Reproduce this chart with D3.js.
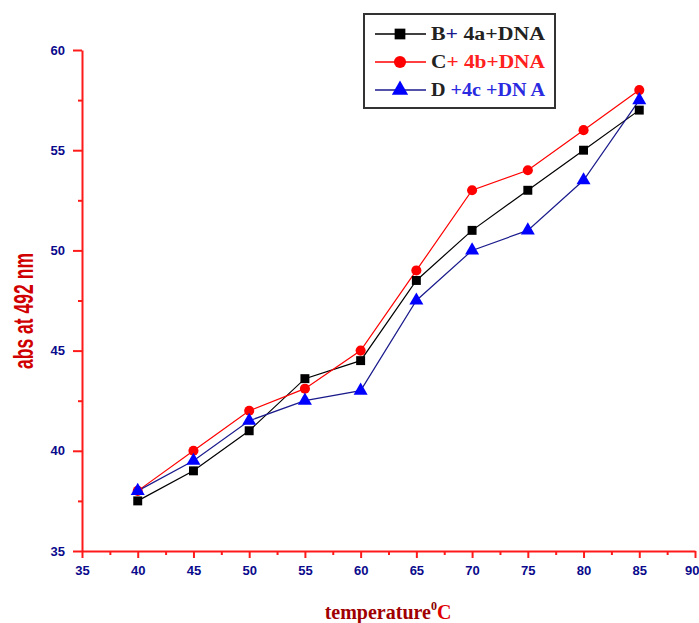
<!doctype html>
<head>
	<title>abs vs temperature</title>
	<script src="https://d3js.org/d3.v7.min.js"></script>
	<style>
		body { margin: 0; background: #fff; }
	</style>
</head>
<body>
	<svg id="thechart" width="699" height="623"></svg>
	<script>
		// data
		let temps = [40, 45, 50, 55, 60, 65, 70, 75, 80, 85]
		let seriesB = [37.5, 39, 41, 43.6, 44.5, 48.5, 51, 53, 55, 57]
		let seriesC = [38, 40, 42, 43.1, 45, 49, 53, 54, 56, 58]
		let seriesD = [38, 39.5, 41.5, 42.5, 43, 47.5, 50, 51, 53.5, 57.5]
		let xTicks = [35, 40, 45, 50, 55, 60, 65, 70, 75, 80, 85, 90]
		let yTicks = [35, 40, 45, 50, 55, 60]

		const svg = d3.select("#thechart")
		const x = d3.scaleLinear().domain([35, 90]).range([82, 695])
		const y = d3.scaleLinear().domain([35, 60]).range([551, 50])

		// axes (red, outward ticks, minor ticks between majors)
		const xAxis = d3.axisBottom(x).tickValues(xTicks).tickSize(7).tickSizeOuter(0).tickPadding(8)
		const yAxis = d3.axisLeft(y).tickValues(yTicks).tickSize(9).tickSizeOuter(0).tickPadding(8)

		const gx = svg.append("g").attr("transform", "translate(0,551)").call(xAxis)
		const gy = svg.append("g").attr("transform", "translate(82,0)").call(yAxis)

		svg.append("g").attr("transform", "translate(0,551)")
			.call(d3.axisBottom(x).tickValues(d3.range(37.5, 90, 5)).tickSize(4).tickFormat(""))
			.call(g => g.select(".domain").remove())
		svg.append("g").attr("transform", "translate(82,0)")
			.call(d3.axisLeft(y).tickValues(d3.range(37.5, 60, 5)).tickSize(4).tickFormat(""))
			.call(g => g.select(".domain").remove())

		svg.selectAll(".domain, .tick line").attr("stroke", "#ff1a1a").attr("stroke-width", 2)
		svg.selectAll(".tick text")
			.attr("fill", "#0a0a8c")
			.attr("font-family", "Liberation Sans")
			.attr("font-weight", "bold")
			.attr("font-size", 13)
		// last x label sits at the window edge, keep it inside
		gx.selectAll(".tick text").filter(d => d === 90).attr("text-anchor", "end").attr("dx", 4)

		// axis titles
		svg.append("text")
			.attr("transform", "translate(33,311) rotate(-90)")
			.attr("text-anchor", "middle")
			.attr("font-family", "Liberation Sans")
			.attr("font-weight", "bold")
			.attr("font-size", 27)
			.attr("textLength", 116)
			.attr("lengthAdjust", "spacingAndGlyphs")
			.attr("fill", "#d00000")
			.text("abs at 492 nm")

		const xt = svg.append("text")
			.attr("x", 388).attr("y", 619)
			.attr("text-anchor", "middle")
			.attr("font-family", "Liberation Serif")
			.attr("font-weight", "bold")
			.attr("font-size", 20)
		xt.append("tspan").attr("fill", "#a00000").text("temperature")
		xt.append("tspan").attr("fill", "#8b0000").attr("dy", -9).attr("font-size", 12).text("0")
		xt.append("tspan").attr("fill", "#e00000").attr("dy", 9).text("C")

		// series
		const series = [
			{ name: "B", values: seriesB, line: "#000000", fill: "#000000", shape: d3.symbolSquare },
			{ name: "C", values: seriesC, line: "#ff0000", fill: "#ff0000", shape: d3.symbolCircle },
			{ name: "D", values: seriesD, line: "#1a1a8c", fill: "#0000ff", shape: d3.symbolTriangle }
		]

		const line = d3.line().x((d, i) => x(temps[i])).y(d => y(d))

		series.forEach(s => {
			svg.append("path")
				.attr("d", line(s.values))
				.attr("fill", "none")
				.attr("stroke", s.line)
				.attr("stroke-width", 1.2)
		})
		series.forEach(s => {
			svg.append("g").selectAll("path")
				.data(s.values)
				.join("path")
				.attr("transform", (d, i) => `translate(${x(temps[i])},${y(d)})`)
				.attr("d", d3.symbol().type(s.shape).size(s.shape === d3.symbolTriangle ? 85 : 80))
				.attr("fill", s.fill)
		})

		// legend
		const lg = svg.append("g")
		lg.append("rect")
			.attr("x", 364).attr("y", 14).attr("width", 191).attr("height", 94)
			.attr("fill", "#fff").attr("stroke", "#333").attr("stroke-width", 2)

		const legendText = [
			[["B", "#222"], ["+ ", "#1a1a8c"], ["4a+DNA", "#222"]],
			[["C", "#222"], ["+ 4b+DNA", "#ff2020"]],
			[["D", "#222"], [" +4c +DN A", "#2a2ae0"]]
		]
		series.forEach((s, i) => {
			const yy = 34 + i * 28
			lg.append("line")
				.attr("x1", 375).attr("x2", 426).attr("y1", yy).attr("y2", yy)
				.attr("stroke", s.line).attr("stroke-width", 1.5)
			lg.append("path")
				.attr("transform", `translate(400,${yy})`)
				.attr("d", d3.symbol().type(s.shape).size(115))
				.attr("fill", s.fill)
			const t = lg.append("text")
				.attr("x", 431).attr("y", yy + 6)
				.attr("font-family", "Liberation Serif")
				.attr("font-weight", "bold")
				.attr("font-size", 18)
				.attr("textLength", 114)
				.attr("lengthAdjust", "spacingAndGlyphs")
			legendText[i].forEach(p => t.append("tspan").attr("fill", p[1]).text(p[0]))
		})
	</script>
</body>
